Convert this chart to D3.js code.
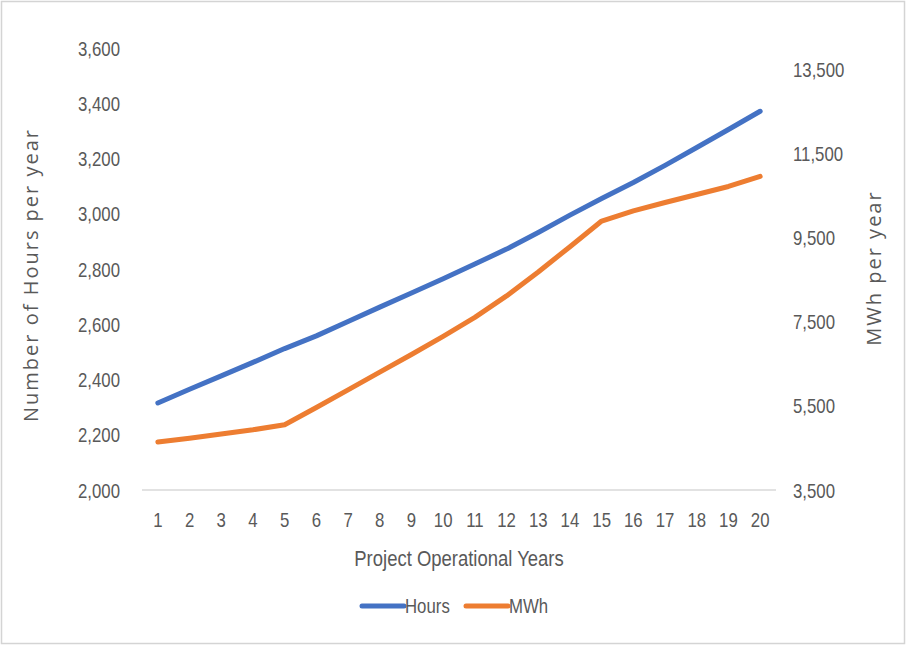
<!DOCTYPE html>
<html>
<head>
<meta charset="utf-8">
<script src="https://cdn.jsdelivr.net/npm/d3@7/dist/d3.min.js"></script>
<style>
  html, body { margin: 0; padding: 0; background: #fff; }
  svg { display: block; }
  .tick text { font-family: "Liberation Sans", Arial, sans-serif; fill: #595959; }
</style>
</head>
<body>
<svg id="chart" width="906" height="645"></svg>
<script>
const years = d3.range(1, 21).map(String);
const hours = [2315, 2365, 2413, 2462, 2512, 2558, 2610, 2662, 2713, 2765,
               2818, 2872, 2932, 2995, 3055, 3113, 3175, 3240, 3305, 3371];
const mwh = [4640, 4730, 4830, 4930, 5050, 5460, 5880, 6300, 6720, 7150,
             7600, 8110, 8680, 9280, 9890, 10130, 10330, 10520, 10710, 10950];
const leftTicks = d3.range(2000, 3601, 200);
const rightTicks = d3.range(3500, 13501, 2000);
const seriesNames = ["Hours", "MWh"];
const colors = ["#4472C4", "#ED7D31"];

const svg = d3.select("#chart");
const W = 906, H = 645;
const SX = 0.84; // horizontal condense factor for Calibri-like look

svg.append("rect").attr("x", 1.5).attr("y", 1.5).attr("width", W - 3).attr("height", H - 3)
  .attr("fill", "#fff").attr("stroke", "#d4d4d4").attr("stroke-width", 1.5);

const x = d3.scaleBand().domain(years).range([142, 776]);
const yL = d3.scaleLinear().domain([2000, 3600]).range([490, 48]);
const yR = d3.scaleLinear().domain([3500, 14000]).range([490, 48]);
const fmt = d3.format(",");

svg.append("line").attr("x1", 142).attr("x2", 776).attr("y1", 490).attr("y2", 490)
  .attr("stroke", "#d9d9d9").attr("stroke-width", 1.5);

// left axis
const gL = svg.append("g").attr("transform", "translate(142,0)")
  .call(d3.axisLeft(yL).tickValues(leftTicks).tickFormat(fmt).tickSize(0).tickPadding(22));
gL.select(".domain").remove();
gL.selectAll("text").attr("font-size", 20).attr("dy", "0.35em")
  .attr("x", -22 / SX).attr("transform", `scale(${SX},1)`);

// right axis
const gR = svg.append("g").attr("transform", "translate(776,0)")
  .call(d3.axisRight(yR).tickValues(rightTicks).tickFormat(fmt).tickSize(0).tickPadding(17));
gR.select(".domain").remove();
gR.selectAll("text").attr("font-size", 20).attr("dy", "0.35em")
  .attr("x", 17 / SX).attr("transform", `scale(${SX},1)`);

// bottom axis
const gB = svg.append("g").attr("transform", "translate(0,490)")
  .call(d3.axisBottom(x).tickSize(0).tickPadding(23));
gB.select(".domain").remove();
gB.selectAll("text").attr("font-size", 20).attr("dy", "0.71em").attr("transform", `scale(${SX},1)`);

// axis titles
svg.append("text").attr("transform", `translate(459,566) scale(${SX},1)`).attr("text-anchor", "middle")
  .attr("font-family", "'Liberation Sans', Arial, sans-serif")
  .attr("font-size", 22).attr("fill", "#595959").text("Project Operational Years");

svg.append("text").attr("transform", "translate(38,275) rotate(-90)").attr("text-anchor", "middle")
  .attr("font-family", "'Open Sans', sans-serif").attr("letter-spacing", 2)
  .attr("font-size", 20).attr("fill", "#595959").text("Number of Hours per year");

svg.append("text").attr("transform", "translate(881,268) rotate(-90)").attr("text-anchor", "middle")
  .attr("font-family", "'Open Sans', sans-serif").attr("letter-spacing", 2)
  .attr("font-size", 20).attr("fill", "#595959").text("MWh per year");

// lines
const cx = (i) => x(years[i]) + x.bandwidth() / 2;
const lineL = d3.line().x((d, i) => cx(i)).y(d => yL(d));
const lineR = d3.line().x((d, i) => cx(i)).y(d => yR(d));

svg.append("path").datum(hours).attr("d", lineL).attr("fill", "none")
  .attr("stroke", colors[0]).attr("stroke-width", 5).attr("stroke-linecap", "round").attr("stroke-linejoin", "round");
svg.append("path").datum(mwh).attr("d", lineR).attr("fill", "none")
  .attr("stroke", colors[1]).attr("stroke-width", 5).attr("stroke-linecap", "round").attr("stroke-linejoin", "round");

// legend
const legendX = [362, 466];
seriesNames.forEach((name, i) => {
  const g = svg.append("g").attr("transform", `translate(${legendX[i]},606)`);
  g.append("line").attr("x1", 0).attr("x2", 42).attr("y1", 0).attr("y2", 0)
    .attr("stroke", colors[i]).attr("stroke-width", 5).attr("stroke-linecap", "round");
  g.append("text").attr("transform", `translate(43,0) scale(${SX},1)`).attr("dy", "0.35em")
    .attr("font-family", "'Liberation Sans', Arial, sans-serif")
    .attr("font-size", 20).attr("fill", "#595959").text(name);
});
</script>
</body>
</html>
